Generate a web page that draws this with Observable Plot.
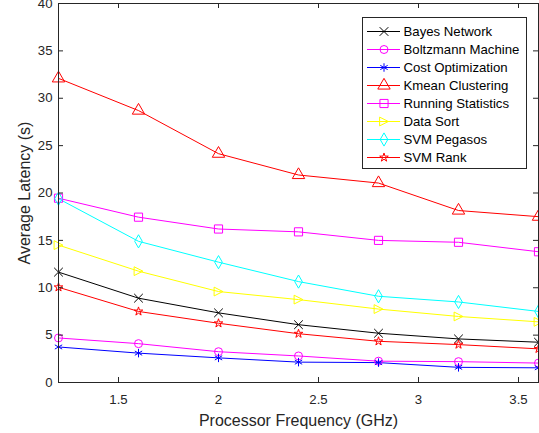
<!DOCTYPE html>
<html><head><meta charset="utf-8">
<script src="https://cdn.jsdelivr.net/npm/d3@7"></script>
<script src="https://cdn.jsdelivr.net/npm/@observablehq/plot@0.6"></script>
<style>
body{margin:0;background:#fff;}
#wrap{position:relative;width:539px;height:433px;overflow:hidden;}
#legend{position:absolute;left:362px;top:17px;}
</style></head><body><div id="wrap"></div>
<script>
// ---- data ----
const freq = [1.2, 1.6, 2.0, 2.4, 2.8, 3.2, 3.6];
const xTicks = [1.5, 2, 2.5, 3, 3.5];
const yTicks = [0, 5, 10, 15, 20, 25, 30, 35, 40];
const seriesNames = ["Bayes Network", "Boltzmann Machine", "Cost Optimization", "Kmean Clustering",
  "Running Statistics", "Data Sort", "SVM Pegasos", "SVM Rank"];
const bayesNetwork      = [11.65, 8.9, 7.35, 6.1, 5.2, 4.6, 4.25];
const boltzmannMachine  = [4.7, 4.1, 3.25, 2.8, 2.25, 2.2, 2.05];
const costOptimization  = [3.75, 3.1, 2.6, 2.15, 2.1, 1.6, 1.55];
const kmeanClustering   = [32.1, 28.7, 24.15, 21.9, 21.05, 18.15, 17.5];
const runningStatistics = [19.45, 17.45, 16.2, 15.9, 15.0, 14.8, 13.8];
const dataSort          = [14.5, 11.75, 9.6, 8.75, 7.75, 6.97, 6.4];
const svmPegasos        = [19.4, 14.9, 12.7, 10.65, 9.1, 8.5, 7.5];
const svmRank           = [10.05, 7.5, 6.25, 5.15, 4.35, 4.0, 3.55];
const seriesValues = [bayesNetwork, boltzmannMachine, costOptimization, kmeanClustering,
  runningStatistics, dataSort, svmPegasos, svmRank];
const seriesColors = ["#000000", "#ff00ff", "#0000ff", "#ff0000", "#ff00ff", "#ffff00", "#00ffff", "#ff0000"];
const xLabel = "Processor Frequency (GHz)";
const yLabel = "Average Latency (s)";

// ---- styling ----
const triangleRight = {
  draw(ctx, size) {
    const r = Math.sqrt(size / Math.PI);
    ctx.moveTo(r, 0); ctx.lineTo(-r, -r); ctx.lineTo(-r, r); ctx.closePath();
  }
};
const seriesSymbols = ["times", "circle", "asterisk", "triangle", "square", triangleRight, "diamond", "star"];
const seriesR = [4, 4, 4, 4.6, 4.6, 4.4, 4, 2.7];
const FONT = "'Liberation Sans', Arial, Helvetica, sans-serif";
const AX = "#262626";
const fmt = d => String(d);

const W = 539, H = 433, mt = 3, mb = 51, ml = 58, mr = 1;
const plotH = H - mt - mb, plotW = W - ml - mr;

const series = seriesNames.map((name, i) => ({
  name, color: seriesColors[i], symbol: seriesSymbols[i], r: seriesR[i],
  rows: freq.map((f, j) => ({f, v: seriesValues[i][j]}))
}));

const chart = Plot.plot({
  width: W, height: H,
  marginTop: mt, marginBottom: mb, marginLeft: ml, marginRight: mr,
  x: {domain: [1.2, 3.6]},
  y: {domain: [0, 40]},
  style: {fontFamily: FONT, background: "#fff", overflow: "visible"},
  marks: [
    ...series.map(s => Plot.line(s.rows, {x: "f", y: "v", stroke: s.color, strokeWidth: 1})),
    ...series.map(s => Plot.dot(s.rows, {x: "f", y: "v", stroke: s.color, fill: "none",
      symbol: s.symbol, r: s.r, strokeWidth: 1})),
    Plot.frame({stroke: AX}),
    Plot.tickX(xTicks, {x: d => d, stroke: AX, insetTop: plotH - 5}),
    Plot.tickX(xTicks, {x: d => d, stroke: AX, insetBottom: plotH - 5}),
    Plot.tickY(yTicks, {y: d => d, stroke: AX, insetRight: plotW - 5}),
    Plot.tickY(yTicks, {y: d => d, stroke: AX, insetLeft: plotW - 5}),
    Plot.axisX(xTicks, {tickSize: 0, tickPadding: 12.5, fontSize: 13.2, fill: AX, label: null, tickFormat: fmt}),
    Plot.axisY(yTicks, {tickSize: 0, tickPadding: 6, fontSize: 13.2, fill: AX, label: null, tickFormat: fmt}),
    Plot.text([xLabel], {text: d => d, frameAnchor: "bottom", lineAnchor: "middle", textAnchor: "middle",
      dy: 38.5, fontSize: 16, fill: AX}),
    Plot.text([yLabel], {text: d => d, frameAnchor: "left", lineAnchor: "middle", textAnchor: "middle",
      rotate: -90, dx: -34, fontSize: 16, fill: AX})
  ]
});

const legend = Plot.plot({
  width: 164, height: 151, margin: 0,
  x: {domain: [0, 164], range: [0, 164], axis: null},
  y: {type: "point", domain: seriesNames, range: [12.5, 140.5], padding: 0, axis: null},
  style: {fontFamily: FONT, fontSize: "13.2px", background: "#fff", overflow: "visible"},
  marks: [
    Plot.frame({stroke: AX, fill: "#fff"}),
    ...series.map(s => Plot.ruleY([s.name], {y: d => d, x1: 5, x2: 38, stroke: s.color, strokeWidth: 1})),
    ...series.map(s => Plot.dot([s.name], {x: () => 21.5, y: d => d, stroke: s.color, fill: "none",
      symbol: s.symbol, r: s.r, strokeWidth: 1})),
    Plot.text(seriesNames, {x: () => 41, y: d => d, text: d => d, textAnchor: "start", lineAnchor: "middle",
      fontSize: 13.2, fill: "#000"})
  ]
});
legend.id = "legend";

const wrap = document.getElementById("wrap");
wrap.appendChild(chart);
wrap.appendChild(legend);
// force a layout pass so the overlay legend text is laid out at its final size
legend.getBoundingClientRect();
legend.querySelectorAll("text").forEach(t => t.getBoundingClientRect());
</script>
</body></html>
